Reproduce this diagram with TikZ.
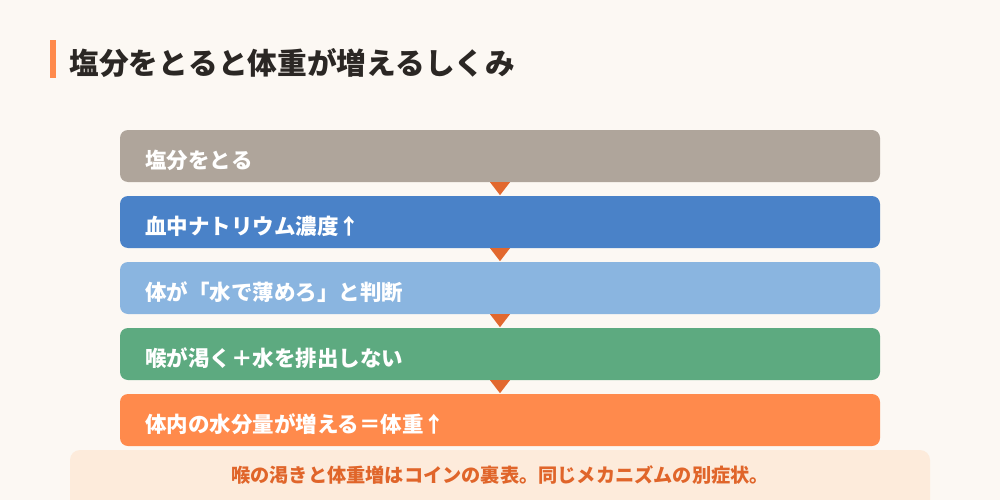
\documentclass[tikz,border=0pt]{standalone}
\usepackage{fontspec}
\setmainfont{Noto Sans CJK JP}
\usetikzlibrary{calc}
\definecolor{bgcream}{HTML}{FCF8F3}
\definecolor{accent}{HTML}{FF8A4C}
\definecolor{inkdark}{HTML}{2B2724}
\definecolor{saltgray}{HTML}{AFA59B}
\definecolor{bloodblue}{HTML}{4A82C8}
\definecolor{skyblue}{HTML}{8AB5E0}
\definecolor{thirstgreen}{HTML}{5DAA80}
\definecolor{weightorange}{HTML}{FF8A4C}
\definecolor{tipred}{HTML}{E2682E}
\definecolor{notepeach}{HTML}{FDEBDB}
\definecolor{notetext}{HTML}{E0652A}
\tikzset{%
    stepbox/.style={%
        draw=none, rounded corners=8pt, minimum width=760pt, minimum height=52pt,
        text width=710pt, inner xsep=25pt, align=left, text=white,
        text height=24pt, text depth=0pt,
        font=\bfseries\fontsize{21.5}{25}\selectfont
    }
}

\begin{document}
\begin{tikzpicture}[x=1pt,y=-1pt]
    \fill[bgcream] (0,0) rectangle (1000,500);
    \useasboundingbox (0,0) rectangle (1000,500);
\fill[accent] (50,40) rectangle (56,78);
\node[anchor=west,text=inkdark,font=\bfseries\fontsize{29.7}{36}\selectfont] (title) at (66,63) {塩分をとると体重が増えるしくみ};
\node[stepbox,fill=saltgray]     (salt)   at (500,156) {塩分をとる};
\node[stepbox,fill=bloodblue]    (sodium) at (500,222) {血中ナトリウム濃度↑};
\node[stepbox,fill=skyblue]      (judge)  at (500,288) {体が「水で薄めろ」と判断};
\node[stepbox,fill=thirstgreen]  (thirst) at (500,354) {喉が渇く＋水を排出しない};
\node[stepbox,fill=weightorange] (weight) at (500,420) {体内の水分量が増える＝体重↑};
\fill[tipred] ($(salt.south)+(-10,0)$) -- ($(salt.south)+(10,0)$) -- ($(salt.south)+(0,13)$) -- cycle;
\fill[tipred] ($(sodium.south)+(-10,0)$) -- ($(sodium.south)+(10,0)$) -- ($(sodium.south)+(0,13)$) -- cycle;
\fill[tipred] ($(judge.south)+(-10,0)$) -- ($(judge.south)+(10,0)$) -- ($(judge.south)+(0,13)$) -- cycle;
\fill[tipred] ($(thirst.south)+(-10,0)$) -- ($(thirst.south)+(10,0)$) -- ($(thirst.south)+(0,13)$) -- cycle;
\fill[notepeach,rounded corners=10pt] (70,450) rectangle (930,512);
\node[text=notetext,font=\bfseries\fontsize{19.2}{23}\selectfont] (note) at (500,475) {喉の渇きと体重増はコインの裏表。同じメカニズムの別症状。};
\end{tikzpicture}
\end{document}
